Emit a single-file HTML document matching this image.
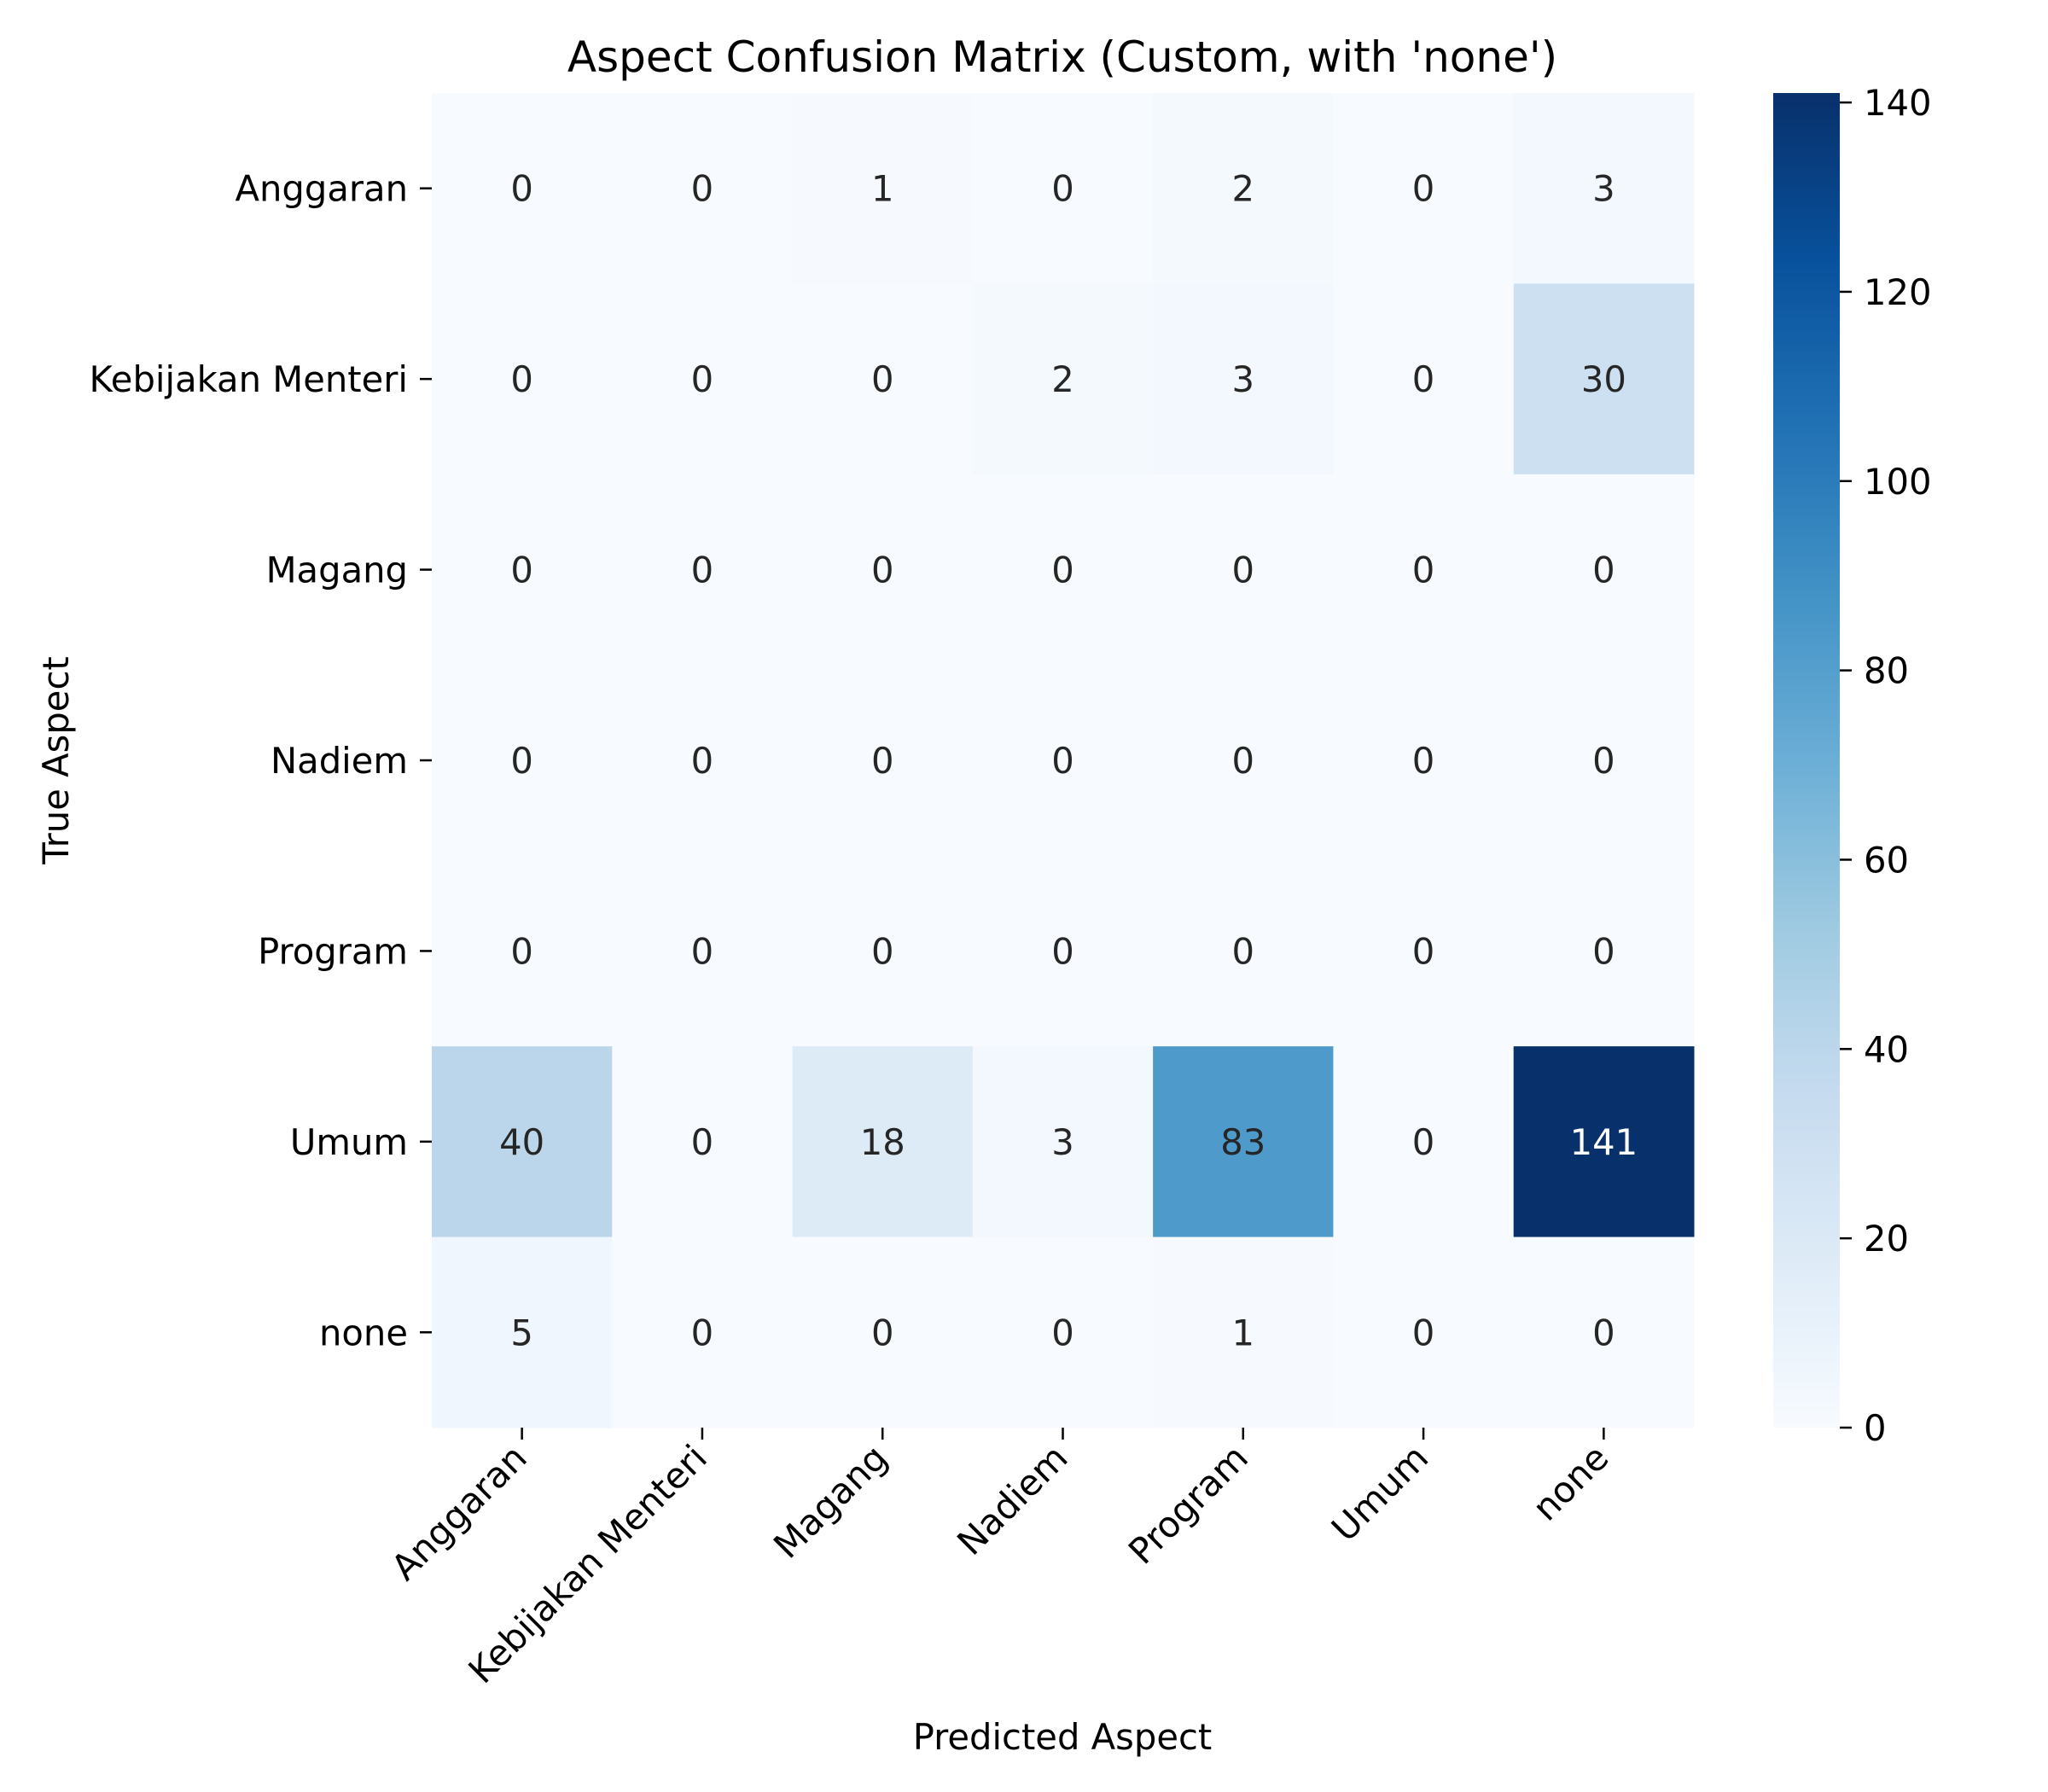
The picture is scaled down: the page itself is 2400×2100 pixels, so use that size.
<!DOCTYPE html>
<html><head><meta charset="utf-8"><style>
html,body{margin:0;padding:0;background:#fff;}
svg{display:block;font-family:"DejaVu Sans","Liberation Sans",sans-serif;}
</style></head><body>
<svg id="chart" xmlns="http://www.w3.org/2000/svg" width="2400" height="2100" viewBox="0 0 2400 2100">
<defs><linearGradient id="cbgrad" x1="0" y1="1" x2="0" y2="0">
<stop offset="0" stop-color="#f7fbff"/><stop offset="0.125" stop-color="#deebf7"/><stop offset="0.25" stop-color="#c6dbef"/><stop offset="0.375" stop-color="#9ecae1"/><stop offset="0.5" stop-color="#6baed6"/><stop offset="0.625" stop-color="#4292c6"/><stop offset="0.75" stop-color="#2171b5"/><stop offset="0.875" stop-color="#08519c"/><stop offset="1" stop-color="#08306b"/>
</linearGradient></defs>
<text x="1245" y="84" font-size="50" text-anchor="middle">Aspect Confusion Matrix (Custom, with 'none')</text>
<text x="1245" y="2050" font-size="41.7" text-anchor="middle">Predicted Aspect</text>
<text transform="translate(80,891) rotate(-90)" font-size="41.7" text-anchor="middle">True Aspect</text>
<g id="cells"></g><g id="xt"></g><g id="yt"></g><g id="cb"></g>
</svg>
<script>
const rowLabels = ["Anggaran","Kebijakan Menteri","Magang","Nadiem","Program","Umum","none"];
const colLabels = ["Anggaran","Kebijakan Menteri","Magang","Nadiem","Program","Umum","none"];
const matrix = [
 [0,0,1,0,2,0,3],
 [0,0,0,2,3,0,30],
 [0,0,0,0,0,0,0],
 [0,0,0,0,0,0,0],
 [0,0,0,0,0,0,0],
 [40,0,18,3,83,0,141],
 [5,0,0,0,1,0,0]
];
const cbTicks = [0,20,40,60,80,100,120,140];

const NS="http://www.w3.org/2000/svg";
const L=506,R=1985,T=109,B=1673;
const cw=(R-L)/colLabels.length, ch=(B-T)/rowLabels.length;
let vmax=0; matrix.forEach(r=>r.forEach(v=>{if(v>vmax)vmax=v;}));
const stops=["#f7fbff","#deebf7","#c6dbef","#9ecae1","#6baed6","#4292c6","#2171b5","#08519c","#08306b"].map(h=>[1,3,5].map(i=>parseInt(h.substr(i,2),16)));
function color(v){let t=Math.max(0,Math.min(1,v/vmax))*8;let i=Math.min(7,Math.floor(t));let f=t-i;
 const c=stops[i].map((a,k)=>Math.round(a+(stops[i+1][k]-a)*f));return [c,`rgb(${c[0]},${c[1]},${c[2]})`];}
function mk(tag,attrs,parent){const e=document.createElementNS(NS,tag);for(const k in attrs)e.setAttribute(k,attrs[k]);parent.appendChild(e);return e;}
const xS=i=>L+cw*(i+0.5), yS=i=>T+ch*(i+0.5);
const cells=document.getElementById('cells');
matrix.forEach((row,r)=>row.forEach((v,c)=>{
 const [rgb,col]=color(v);
 const rect=mk('rect',{x:L+cw*c,y:T+ch*r,width:cw+0.5,height:ch+0.5,fill:col},cells);
 
 
 const lum=(0.299*rgb[0]+0.587*rgb[1]+0.114*rgb[2])/255;
 const t=mk('text',{x:xS(c),y:yS(r)+15,'font-size':41.7,'text-anchor':'middle',fill:lum<0.5?'#fff':'#262626'},cells);
 t.textContent=v;
 
 
}));
const xt=document.getElementById('xt');
colLabels.forEach((lab,i)=>{
 const x=xS(i);
 const tk=mk('line',{x1:x,y1:B,x2:x,y2:B+14,stroke:'#000','stroke-width':2.5},xt);
 
 
 const t=mk('text',{transform:`translate(${x+8},${B+38}) rotate(-45)`,'font-size':41.7,'text-anchor':'end'},xt);
 t.textContent=lab;
 
 
});
const yt=document.getElementById('yt');
rowLabels.forEach((lab,i)=>{
 const y=yS(i);
 const tk=mk('line',{x1:L-14,y1:y,x2:L,y2:y,stroke:'#000','stroke-width':2.5},yt);
 
 
 const t=mk('text',{x:L-28,y:y+15,'font-size':41.7,'text-anchor':'end'},yt);
 t.textContent=lab;
 
 
});
const cb=document.getElementById('cb');
const CL=2078,CR=2156;
const bar=mk('rect',{x:CL,y:T,width:CR-CL,height:B-T,fill:'url(#cbgrad)'},cb);


const cy=v=>B-(v/vmax)*(B-T);
cbTicks.forEach(v=>{
 const y=cy(v);
 const tk=mk('line',{x1:CR,y1:y,x2:CR+14,y2:y,stroke:'#000','stroke-width':2.5},cb);
 
 
 const t=mk('text',{x:CR+28,y:y+15,'font-size':41.7},cb);
 t.textContent=v;
 
 
});
</script>
</body></html>
